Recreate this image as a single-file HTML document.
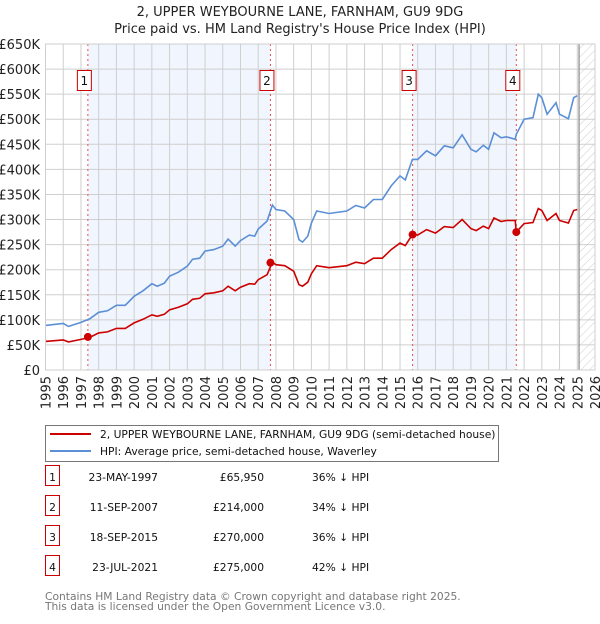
<!DOCTYPE html>
<html><head><meta charset="utf-8"><style>
body{margin:0;background:#fff;width:600px;height:620px;overflow:hidden;font-family:"DejaVu Sans","Liberation Sans",sans-serif;}
svg text{font-family:"DejaVu Sans","Liberation Sans",sans-serif;}
</style></head><body>
<svg id="chart" width="600" height="620" xmlns="http://www.w3.org/2000/svg">
<defs><pattern id="hatch" width="6" height="6" patternUnits="userSpaceOnUse" patternTransform="rotate(45)"><line x1="0" y1="0" x2="0" y2="6" stroke="#ccc" stroke-width="1"/></pattern></defs>
<text x="300" y="16" text-anchor="middle" font-size="13" fill="#222">2, UPPER WEYBOURNE LANE, FARNHAM, GU9 9DG</text>
<text x="300" y="33" text-anchor="middle" font-size="13" fill="#222">Price paid vs. HM Land Registry's House Price Index (HPI)</text>
<g id="plot"></g>
<g>
<rect x="45.5" y="425.5" width="453" height="36" fill="#fff" stroke="#777"/>
<line x1="50" y1="434" x2="91" y2="434" stroke="#cc0000" stroke-width="2"/>
<text x="100" y="438" font-size="10.7" fill="#111">2, UPPER WEYBOURNE LANE, FARNHAM, GU9 9DG (semi-detached house)</text>
<line x1="50" y1="451" x2="91" y2="451" stroke="#5b8fd6" stroke-width="2"/>
<text x="100" y="455" font-size="10.7" fill="#111">HPI: Average price, semi-detached house, Waverley</text>
</g>
<g id="table" font-size="10.7" fill="#111"></g>
<text x="45" y="600" font-size="10.7" fill="#777">Contains HM Land Registry data © Crown copyright and database right 2025.</text>
<text x="45" y="610" font-size="10.7" fill="#777">This data is licensed under the Open Government Licence v3.0.</text>
</svg>
<script>
const years=[1995,1996,1996.3,1997,1997.5,1998,1998.5,1999,1999.5,2000,2000.5,2001,2001.3,2001.7,2002,2002.5,2003,2003.3,2003.7,2004,2004.5,2005,2005.3,2005.7,2006,2006.5,2006.8,2007,2007.5,2007.8,2008,2008.5,2009,2009.3,2009.5,2009.8,2010,2010.3,2011,2012,2012.5,2013,2013.5,2014,2014.5,2015,2015.3,2015.7,2016,2016.5,2017,2017.5,2018,2018.5,2019,2019.3,2019.7,2020,2020.3,2020.7,2021,2021.5,2021.56,2022,2022.5,2022.8,2023,2023.3,2023.8,2024,2024.5,2024.8,2025];
const hpi=[89,93,87,95,102,115,118,129,129,147,158,172,167,173,187,195,207,221,223,237,240,247,261,247,258,269,267,281,297,329,320,317,300,260,255,267,293,317,312,317,328,323,340,340,367,387,379,420,420,437,427,447,443,469,440,435,448,440,473,463,465,460,470,500,503,550,543,510,533,510,501,543,547];
const paid=[57,60,56,61,65,74,76,83,83,94,101,110,107,111,120,125,132,141,143,152,154,158,167,158,165,172,171,180,190,215,210,208,197,170,167,175,192,208,204,208,215,212,223,223,240,253,248,270,269,280,273,286,284,300,282,278,287,282,303,296,298,298,275,292,294,322,318,298,312,298,293,318,320];
const saleYears=[1997.39,2007.69,2015.71,2021.56];
const salePrices=[65.95,214,270,275];
const saleDates=["23-MAY-1997","11-SEP-2007","18-SEP-2015","23-JUL-2021"];
const salePriceLabels=["£65,950","£214,000","£270,000","£275,000"];
const saleDiffs=["36% ↓ HPI","34% ↓ HPI","36% ↓ HPI","42% ↓ HPI"];
const yTicks=[0,50,100,150,200,250,300,350,400,450,500,550,600,650];
const yTickLabels=["£0","£50K","£100K","£150K","£200K","£250K","£300K","£350K","£400K","£450K","£500K","£550K","£600K","£650K"];
const xTicks=[1995,1996,1997,1998,1999,2000,2001,2002,2003,2004,2005,2006,2007,2008,2009,2010,2011,2012,2013,2014,2015,2016,2017,2018,2019,2020,2021,2022,2023,2024,2025,2026];
const dataEnd=2025.1;

const X0=45.5,X1=595,Y0=370,Y1=44;
const xs=y=>X0+(y-1995)/(2026-1995)*(X1-X0);
const ys=v=>Y0-v/650*(Y0-Y1);
const NS="http://www.w3.org/2000/svg";
const g=document.getElementById('plot');
function mk(tag,attrs,parent){const e=document.createElementNS(NS,tag);for(const k in attrs)e.setAttribute(k,attrs[k]);(parent||g).appendChild(e);return e;}

let e;
e=mk('rect',{x:X0,y:Y1,width:X1-X0,height:Y0-Y1,fill:'#fff'});


for(let i=0;i<4;i+=2){
 e=mk('rect',{x:xs(saleYears[i]),y:Y1,width:xs(saleYears[i+1])-xs(saleYears[i]),height:Y0-Y1,fill:'#eef3fd',opacity:0.8});
 
 
}
e=mk('rect',{x:xs(dataEnd),y:Y1,width:X1-xs(dataEnd),height:Y0-Y1,fill:'url(#hatch)'});


yTicks.forEach((v,i)=>{
 e=mk('line',{x1:X0,x2:X1,y1:ys(v),y2:ys(v),stroke:'#cfcfcf','stroke-width':1});
 
 
 e=mk('text',{x:40,y:ys(v)+5,'text-anchor':'end','font-size':13,fill:'#222'});
 e.textContent=yTickLabels[i];
 
 
});
xTicks.forEach(y=>{
 e=mk('line',{x1:xs(y),x2:xs(y),y1:Y1,y2:Y0,stroke:'#cfcfcf','stroke-width':1});
 
 
 e=mk('text',{x:0,y:0,'text-anchor':'end','font-size':13,fill:'#222',transform:`translate(${xs(y)+5},376) rotate(-90)`});
 e.textContent=y;
 
 
});
e=mk('line',{x1:xs(dataEnd),x2:xs(dataEnd),y1:Y1,y2:Y0,stroke:'#888','stroke-width':1.2});


saleYears.forEach((y,i)=>{
 e=mk('line',{x1:xs(y),x2:xs(y),y1:Y1,y2:Y0,stroke:'#e05050','stroke-width':1,'stroke-dasharray':'2,3'});
 
 
});
function path(arr){return years.map((y,i)=>(i?'L':'M')+xs(y).toFixed(1)+','+ys(arr[i]).toFixed(1)).join('');}
e=mk('path',{d:path(hpi),fill:'none',stroke:'#5b8fd6','stroke-width':1.6});


e=mk('path',{d:path(paid),fill:'none',stroke:'#cc0000','stroke-width':1.6});


saleYears.forEach((y,i)=>{
 e=mk('circle',{cx:xs(y),cy:ys(salePrices[i]),r:4,fill:'#cc0000'});
 
 
 e=mk('rect',{x:xs(y)-10.5,y:70.5,width:14,height:20,fill:'#fff',stroke:'#cc0000'});
 
 
 e=mk('text',{x:xs(y)-3.5,y:85,'text-anchor':'middle','font-size':12,fill:'#111'});
 e.textContent=i+1;
 
 
});
e=mk('rect',{x:X0,y:Y1,width:X1-X0,height:Y0-Y1,fill:'none',stroke:'#cfcfcf'});



const t=document.getElementById('table');
saleYears.forEach((y,i)=>{
 const cy=483+i*30;
 e=mk('rect',{x:45.5,y:cy-17.5,width:14,height:20,fill:'#fff',stroke:'#cc0000'},t);
 
 
 e=mk('text',{x:52.5,y:cy-2,'text-anchor':'middle'},t);e.textContent=i+1;
 
 
 e=mk('text',{x:158,y:cy-2,'text-anchor':'end'},t);e.textContent=saleDates[i];
 
 
 e=mk('text',{x:264,y:cy-2,'text-anchor':'end'},t);e.textContent=salePriceLabels[i];
 
 
 e=mk('text',{x:312,y:cy-2},t);e.textContent=saleDiffs[i];
 
 
});
</script>
</body></html>
